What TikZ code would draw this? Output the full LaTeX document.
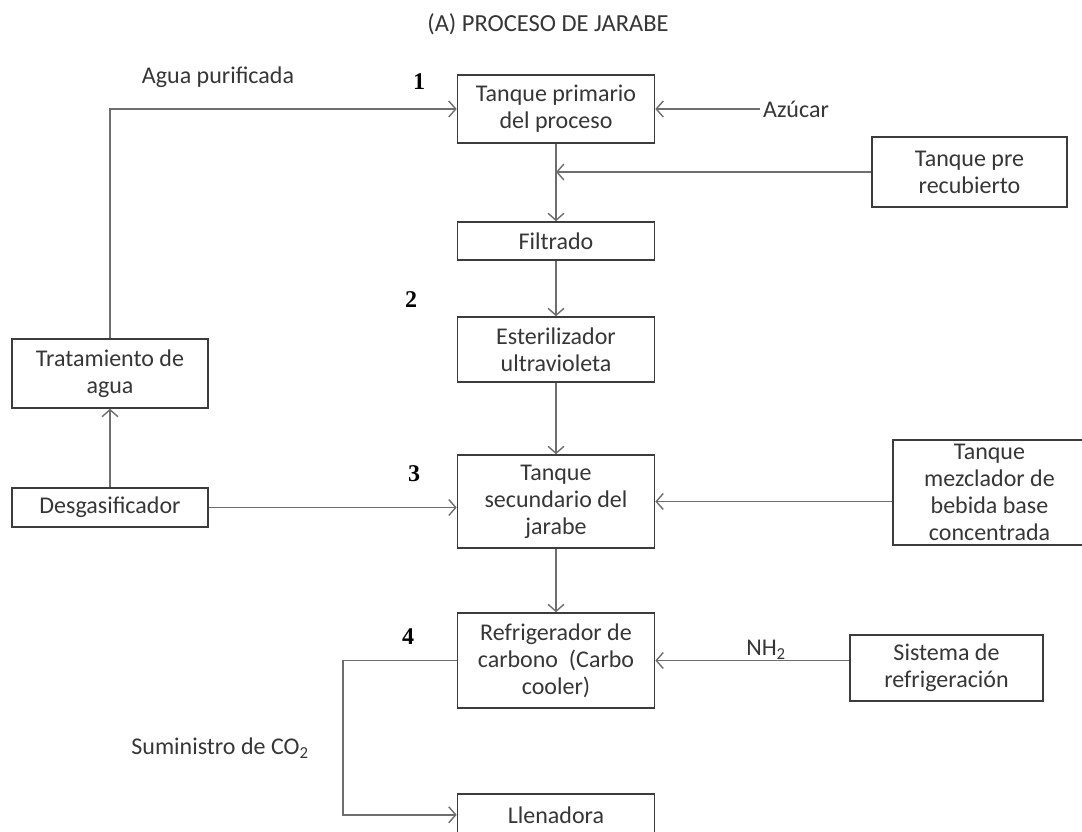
\documentclass[tikz,border=0pt]{standalone}
\usepackage{fontspec}
\setmainfont{Carlito}
\newfontfamily\numfont{Liberation Serif}
\usepackage{xcolor}
\usepackage{tikz}
\usetikzlibrary{positioning, arrows.meta, calc}
\definecolor{boxgray}{HTML}{3C3C3C}
\definecolor{linegray}{HTML}{6E6E6E}
\definecolor{textgray}{HTML}{363636}

\begin{document}
\begin{tikzpicture}[x=1pt, y=-1pt,
    proc/.style={draw=boxgray, line width=1.6pt, align=center, minimum width=197pt,
                 inner sep=0pt, text=textgray, font=\fontsize{24}{27}\selectfont},
    flow/.style={draw=linegray, line width=1.4pt, -{Straight Barb[length=7pt, width=16pt]}},
    lbl/.style={text=textgray, font=\fontsize{24}{27}\selectfont},
    stepno/.style={font=\numfont\bfseries\fontsize{24}{24}\selectfont}]
    \useasboundingbox (0,0) rectangle (1082,831);

    % title
    \node[lbl, font=\fontsize{24.5}{27}\selectfont] (title) at (548,24) {(A) PROCESO DE JARABE};

    % main line
    \node[proc, minimum height=68pt] (primario) at (556,109) {Tanque primario\\del proceso};
    \node[proc, minimum height=38pt] (filtrado) at (556,241) {Filtrado};
    \node[proc, minimum height=65pt] (esteril) at (556,349.5) {Esterilizador\\ultravioleta};
    \node[proc, minimum height=93pt] (secundario) at (556,501.5) {Tanque\\secundario del\\jarabe};
    \node[proc, minimum height=95pt] (refrig) at (556,660.5) {Refrigerador de\\carbono~ (Carbo\\cooler)};
    \node[proc, minimum height=42pt, anchor=north] (llenadora) at (556,793) {Llenadora};

    % left side
    \node[proc, minimum width=196pt, minimum height=69pt] (tratamiento) at (110,373.5) {Tratamiento de\\agua};
    \node[proc, minimum width=196pt, minimum height=39pt] (desgas) at (110,507.5) {Desgasificador};

    % right side
    \node[proc, minimum width=195pt, minimum height=70pt] (prerecub) at (969.5,172) {Tanque pre\\recubierto};
    \node[proc, minimum width=193pt, minimum height=105pt] (mezclador) at (989.5,492.5) {Tanque\\mezclador de\\bebida base\\concentrada};
    \node[proc, minimum width=193pt, minimum height=66pt] (sistema) at (946.5,668) {Sistema de\\refrigeración};

    % labels
    \node[lbl] (azucar) at (796,109) {Azúcar};
    \node[lbl] (agua) at (218,77) {Agua purificada};
    \node[lbl] (nh) at (766,650) {NH\textsubscript{2}};
    \node[lbl] (co2) at (220,748) {Suministro de CO\textsubscript{2}};
    \node[stepno] (n1) at (419,82) {1};
    \node[stepno] (n2) at (411,300) {2};
    \node[stepno] (n3) at (414,474) {3};
    \node[stepno] (n4) at (408,637) {4};

    % connectors
    \draw[flow] (primario) -- (filtrado);
    \draw[flow] (filtrado) -- (esteril);
    \draw[flow] (esteril) -- (secundario);
    \draw[flow] (secundario) -- (refrig);
    \draw[flow] (azucar.west) -- (primario.east);
    \draw[flow] (prerecub.west) -- (prerecub.west -| primario.south);
    \draw[flow] (tratamiento.north) |- (primario.west);
    \draw[flow] (desgas) -- (tratamiento);
    \draw[flow] (desgas.east) -- (desgas.east -| secundario.west);
    \draw[flow] (mezclador.west |- secundario.east) -- (secundario.east);
    \draw[flow] (sistema.west |- refrig.east) -- (refrig.east);
    \coordinate (bend) at (343,660.5);
    \draw[flow] (refrig.west) -- (bend) |- (llenadora.west);
\end{tikzpicture}
\end{document}
